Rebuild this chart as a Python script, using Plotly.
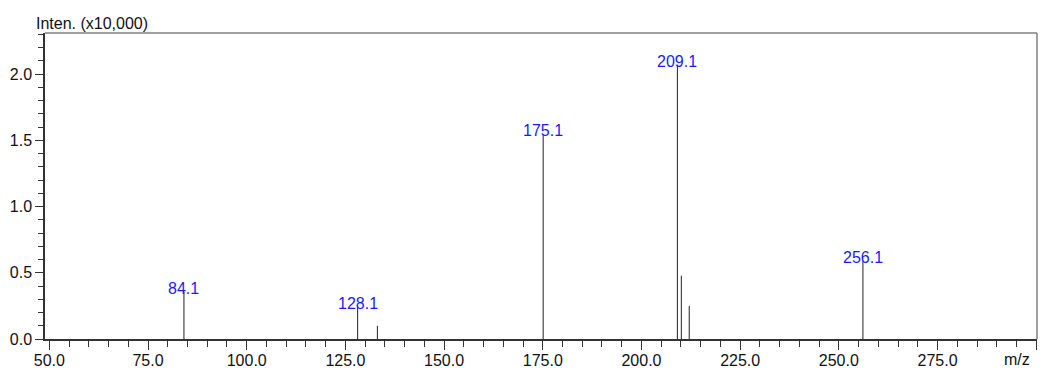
import plotly.graph_objects as go

# Mass spectrum peaks (m/z, intensity in x10,000)
mz = [84.1, 128.1, 133.1, 175.1, 209.1, 210.1, 212.1, 256.1]
intensity = [0.357, 0.244, 0.10, 1.545, 2.07, 0.478, 0.25, 0.59]
labeled = [84.1, 128.1, 175.1, 209.1, 256.1]

x_ticks = [50, 75, 100, 125, 150, 175, 200, 225, 250, 275, 300]
x_labels = ["50.0", "75.0", "100.0", "125.0", "150.0", "175.0", "200.0",
            "225.0", "250.0", "275.0", ""]
y_ticks = [0.0, 0.5, 1.0, 1.5, 2.0]
y_labels = ["0.0", "0.5", "1.0", "1.5", "2.0"]

xs, ys = [], []
for m, h in zip(mz, intensity):
    xs += [m, m, None]
    ys += [0, h, None]

fig = go.Figure()
fig.add_trace(go.Scatter(x=xs, y=ys, mode="lines",
                         line=dict(color="#222222", width=1),
                         hoverinfo="skip", showlegend=False))

for m, h in zip(mz, intensity):
    if m in labeled:
        fig.add_annotation(x=m, y=h, text=f"{m:.1f}", showarrow=False,
                           yanchor="bottom", yshift=-7,
                           font=dict(color="#1a1aff", size=16))

fig.add_annotation(xref="paper", yref="paper", x=0.98, y=0, yshift=-10,
                   text="m/z", showarrow=False, xanchor="center", yanchor="top",
                   font=dict(size=16, color="#111111"))
fig.add_annotation(xref="paper", yref="paper", x=0, y=1, xshift=-11,
                   text="Inten. (x10,000)", showarrow=False,
                   xanchor="left", yanchor="bottom", yshift=-1,
                   font=dict(size=16, color="#111111"))

# top / right frame
fig.add_shape(type="line", xref="paper", yref="paper", x0=0, x1=1, y0=1, y1=1,
              line=dict(color="#808080", width=1.5))
fig.add_shape(type="line", xref="paper", yref="paper", x0=1, x1=1, y0=0, y1=1,
              line=dict(color="#808080", width=1.5))

fig.update_xaxes(range=[48.9, 300.2], tickvals=x_ticks, ticktext=x_labels,
                 ticks="outside", ticklen=9, tickcolor="#333333",
                 ticklabelstandoff=-3,
                 showline=True, linecolor="#333333", linewidth=1.5,
                 showgrid=False, zeroline=False, automargin=False,
                 minor=dict(dtick=5, tick0=50, ticks="outside", ticklen=6,
                            tickcolor="#333333", showgrid=False),
                 tickfont=dict(size=16, color="#111111"))
fig.update_yaxes(range=[0, 2.31], tickvals=y_ticks, ticktext=y_labels,
                 ticks="outside", ticklen=8, tickcolor="#333333",
                 showline=True, linecolor="#333333", linewidth=1.5,
                 showgrid=False, zeroline=False, automargin=False,
                 minor=dict(dtick=0.1, tick0=0, ticks="outside", ticklen=5,
                            tickcolor="#333333", showgrid=False),
                 tickfont=dict(size=16, color="#111111"))

fig.update_layout(width=1043, height=370,
                  margin=dict(l=45, r=6, t=33, b=31),
                  plot_bgcolor="white", paper_bgcolor="white",
                  font=dict(family="Liberation Sans, Arial, sans-serif"))

# the page body has a default 8px margin; drop it so the figure fills the window
fig.write_html("out.html", config={"displayModeBar": False},
               post_script="document.body.style.margin='0';")
